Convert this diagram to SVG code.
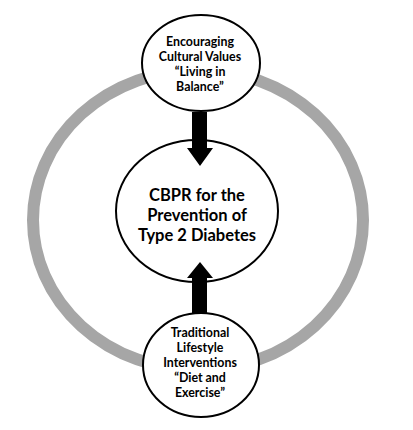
<svg xmlns="http://www.w3.org/2000/svg" width="413" height="430" viewBox="0 0 413 430">
<style>
.node{fill:#fff;stroke:#000;stroke-width:2}
.t{font-family:Lato,"Open Sans","Liberation Sans",sans-serif;font-weight:bold;text-anchor:middle;fill:#000}
.s{font-size:12.4px}
.c{font-size:16.5px}
</style>
<rect width="413" height="430" fill="#fff"/>
<g id="ring">
<ellipse cx="198" cy="220" rx="165" ry="150" fill="none" stroke="#a6a6a6" stroke-width="12"/>
</g>
<g id="center">
<ellipse class="node" cx="197" cy="211" rx="81" ry="71"/>
<text class="t c" x="197" y="201">CBPR for the</text>
<text class="t c" x="197" y="221">Prevention of</text>
<text class="t c" x="197" y="241">Type 2 Diabetes</text>
</g>
<g id="top">
<ellipse class="node" cx="201" cy="63" rx="59" ry="48"/>
<text class="t s" x="200" y="46">Encouraging</text>
<text class="t s" x="200" y="61">Cultural Values</text>
<text class="t s" x="200" y="76">“Living in</text>
<text class="t s" x="200" y="91">Balance”</text>
</g>
<g id="bottom">
<ellipse class="node" cx="201" cy="365" rx="58" ry="52"/>
<text class="t s" x="200" y="337">Traditional</text>
<text class="t s" x="200" y="352">Lifestyle</text>
<text class="t s" x="200" y="367">Interventions</text>
<text class="t s" x="200" y="382">“Diet and</text>
<text class="t s" x="200" y="397">Exercise”</text>
</g>
<g id="connectors">
<polygon id="arrow-down" points="192,112 207,112 207,148 213,148 200,166 187,148 192,148" fill="#000"/>
<polygon id="arrow-up" points="192,313 207,313 207,278 213,278 200,262 187,278 192,278" fill="#000"/>
</g>
</svg>
